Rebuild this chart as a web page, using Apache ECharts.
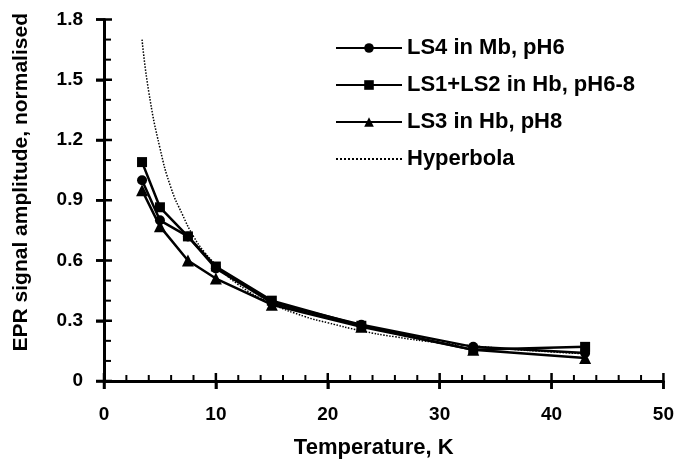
<!DOCTYPE html>
<html>
<head>
<meta charset="utf-8">
<script src="https://cdn.jsdelivr.net/npm/echarts@6/dist/echarts.min.js"></script>
<style>html,body{margin:0;padding:0;background:#fff}#c{width:677px;height:464px}</style>
</head>
<body>
<div id="c"></div>
<script>
var temps = [3.4, 5, 7.5, 10, 15, 23, 33, 43];
var ls4 = [1.0, 0.80, 0.72, 0.56, 0.39, 0.28, 0.17, 0.14];
var ls12 = [1.09, 0.865, 0.72, 0.57, 0.40, 0.275, 0.155, 0.17];
var ls3 = [0.95, 0.77, 0.60, 0.51, 0.38, 0.27, 0.155, 0.115];
var hypT = [3.4, 4, 5, 6, 7, 8, 9, 10, 12, 15, 18, 20, 23, 26, 30, 33, 36, 40, 43];
var hypY = [1.70, 1.44, 1.16, 0.96, 0.83, 0.72, 0.64, 0.58, 0.48, 0.385, 0.32, 0.29, 0.25, 0.22, 0.19, 0.175, 0.16, 0.145, 0.135];
var names = ['LS4 in Mb, pH6', 'LS1+LS2 in Hb, pH6-8', 'LS3 in Hb, pH8', 'Hyperbola'];
var xName = 'Temperature, K';
var yName = 'EPR signal amplitude, normalised';
var xMajorTicks = [0, 10, 20, 30, 40, 50];
var xMinorTicks = [2, 4, 6, 8, 12, 14, 16, 18, 22, 24, 26, 28, 32, 34, 36, 38, 42, 44, 46, 48];
var yMajorTicks = [0, 0.3, 0.6, 0.9, 1.2, 1.5, 1.8];
var yMinorTicks = [0.1, 0.2, 0.4, 0.5, 0.7, 0.8, 1.0, 1.1, 1.3, 1.4, 1.6, 1.7];

function pairs(xs, ys) { return xs.map(function (x, i) { return [x, ys[i]]; }); }

var tickData = []
  .concat(xMajorTicks.map(function (v) { return [v, 0]; }))
  .concat(xMinorTicks.map(function (v) { return [v, 1]; }))
  .concat(yMajorTicks.map(function (v) { return [v, 2]; }))
  .concat(yMinorTicks.map(function (v) { return [v, 3]; }));

var FONT = 'Liberation Sans';
var chart = echarts.init(document.getElementById('c'));
function label(margin) { return { show: true, margin: margin, color: '#000', fontFamily: FONT, fontWeight: 'bold', fontSize: 19 }; }
function lineSeries(name, data, symbol, size) {
  return { name: name, type: 'line', data: data, symbol: symbol, symbolSize: size,
    lineStyle: { color: '#000', width: 2.5 }, itemStyle: { color: '#000' } };
}
function renderTick(params, api) {
  var v = api.value(0), kind = api.value(1), p, shape, w;
  if (kind === 0 || kind === 1) {
    p = api.coord([v, 0]);
    shape = kind === 0 ? { x1: p[0], y1: p[1] - 8, x2: p[0], y2: p[1] + 8 } : { x1: p[0], y1: p[1] - 6, x2: p[0], y2: p[1] };
  } else {
    p = api.coord([0, v]);
    shape = kind === 2 ? { x1: p[0] - 8, y1: p[1], x2: p[0] + 8, y2: p[1] } : { x1: p[0], y1: p[1], x2: p[0] + 7, y2: p[1] };
  }
  w = (kind === 0 || kind === 2) ? 2.5 : 2;
  return { type: 'line', shape: shape, style: { stroke: '#000', lineWidth: w } };
}
var tickStyle = { show: true, inside: false, length: 8, lineStyle: { color: '#000', width: 2.5 } };
chart.setOption({
  animation: false,
  grid: { left: 104, right: 12, top: 19.5, bottom: 79 },
  xAxis: { type: 'value', min: 0, max: 50, interval: 10, splitLine: { show: false },
    name: xName, nameLocation: 'middle', nameGap: 56,
    nameTextStyle: { color: '#000', fontFamily: FONT, fontWeight: 'bold', fontSize: 22, padding: [0, 20, 0, 0] },
    axisLine: { show: true, lineStyle: { color: '#000', width: 3 } }, axisTick: tickStyle, axisLabel: label(24) },
  yAxis: { type: 'value', min: 0, max: 1.8, interval: 0.3, splitLine: { show: false },
    name: yName, nameLocation: 'middle', nameGap: 72, nameRotate: 90,
    nameTextStyle: { color: '#000', fontFamily: FONT, fontWeight: 'bold', fontSize: 21, padding: [0, 0, 0, 36] },
    axisLine: { show: true, lineStyle: { color: '#000', width: 3 } }, axisTick: tickStyle, axisLabel: label(21) },
  legend: {
    orient: 'vertical', left: 330, top: 32, itemWidth: 66, itemHeight: 12, itemGap: 15,
    data: [names[0], names[1], names[2], { name: names[3], itemStyle: { opacity: 0 } }],
    textStyle: { color: '#000', fontFamily: FONT, fontWeight: 'bold', fontSize: 22 },
    lineStyle: { width: 2 }
  },
  series: [
    lineSeries(names[0], pairs(temps, ls4), 'circle', 10),
    lineSeries(names[1], pairs(temps, ls12), 'rect', 10),
    lineSeries(names[2], pairs(temps, ls3), 'triangle', 12),
    { name: names[3], type: 'line', data: pairs(hypT, hypY), symbol: 'none', smooth: true,
      lineStyle: { color: '#000', width: 1.5, type: 'dotted' }, itemStyle: { color: '#000' } },
    { name: 'ticks', type: 'custom', data: tickData, renderItem: renderTick, clip: false, silent: true }
  ]
});
</script>
</body>
</html>
